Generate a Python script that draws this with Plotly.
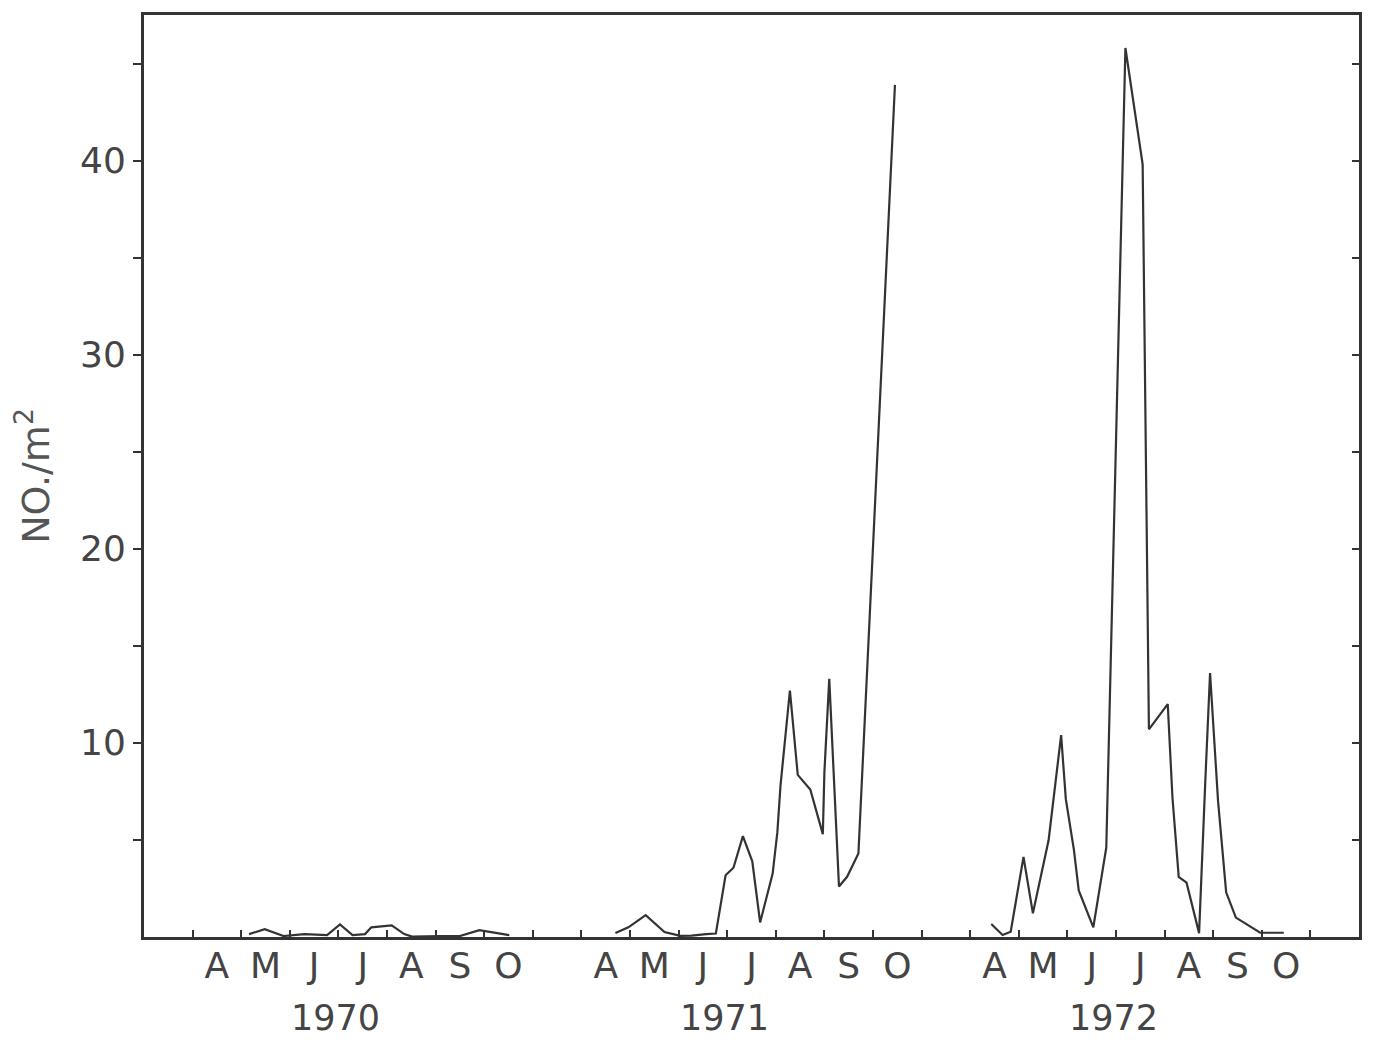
import calendar
import plotly.graph_objects as go

# ---------------- data ----------------
dates_1970 = ["1970-05-06", "1970-05-16", "1970-05-28", "1970-06-10", "1970-06-24",
              "1970-07-02", "1970-07-10", "1970-07-18", "1970-07-22", "1970-08-04",
              "1970-08-12", "1970-08-17", "1970-09-04", "1970-09-16", "1970-09-28",
              "1970-10-17"]
values_1970 = [0.15, 0.4, 0.05, 0.15, 0.1, 0.65, 0.1, 0.15, 0.5, 0.6,
               0.15, 0.02, 0.05, 0.05, 0.35, 0.1]

dates_1971 = ["1971-04-22", "1971-04-30", "1971-05-11", "1971-05-23", "1971-06-02",
              "1971-06-09", "1971-06-18", "1971-06-24", "1971-06-30", "1971-07-05",
              "1971-07-11", "1971-07-17", "1971-07-22", "1971-07-30", "1971-08-02",
              "1971-08-04", "1971-08-10", "1971-08-15", "1971-08-23", "1971-08-31",
              "1971-09-01", "1971-09-04", "1971-09-10", "1971-09-15", "1971-09-22",
              "1971-10-15"]
values_1971 = [0.2, 0.5, 1.13, 0.26, 0.06, 0.07, 0.15, 0.18, 3.18, 3.57,
               5.2, 3.9, 0.75, 3.27, 5.4, 7.8, 12.7, 8.35, 7.6, 5.3,
               8.5, 13.3, 2.6, 3.1, 4.3, 43.9]

dates_1972 = ["1972-04-14", "1972-04-21", "1972-04-26", "1972-05-04", "1972-05-10",
              "1972-05-20", "1972-05-28", "1972-05-31", "1972-06-05", "1972-06-08",
              "1972-06-17", "1972-06-25", "1972-07-07", "1972-07-18", "1972-07-22",
              "1972-08-03", "1972-08-06", "1972-08-10", "1972-08-15", "1972-08-23",
              "1972-08-27", "1972-08-30", "1972-09-04", "1972-09-09", "1972-09-15",
              "1972-09-30", "1972-10-15"]
values_1972 = [0.67, 0.1, 0.27, 4.12, 1.22, 4.98, 10.4, 7.1, 4.5, 2.4,
               0.5, 4.6, 45.8, 39.8, 10.7, 12.0, 7.2, 3.1, 2.8, 0.2,
               8.1, 13.6, 7.0, 2.3, 1.0, 0.22, 0.22]

years = [1970, 1971, 1972]
month_labels = ["A", "M", "J", "J", "A", "S", "O"]
y_major = [10, 20, 30, 40]
y_minor = [5, 15, 25, 35, 45]

# ---------------- compressed seasonal axis (Apr..Nov per year) ----------------
FIRST_MONTH = 3          # March = position 0 of each season block
MONTHS_PER_BLOCK = 8     # Apr..Oct plus one blank month between seasons


def pos(d):
    y, m, day = map(int, d.split("-"))
    return (y - years[0]) * MONTHS_PER_BLOCK + (m - FIRST_MONTH) + (day - 1) / calendar.monthrange(y, m)[1]


LINE = "#333333"
TEXT = "#444444"
FONT = "DejaVu Sans"

fig = go.Figure()
for dts, vals in [(dates_1970, values_1970), (dates_1971, values_1971), (dates_1972, values_1972)]:
    fig.add_trace(go.Scatter(x=[pos(d) for d in dts], y=vals, mode="lines",
                             line=dict(color=LINE, width=2.2), showlegend=False,
                             hoverinfo="skip"))
# invisible trace to anchor the right-hand axis
fig.add_trace(go.Scatter(x=[0], y=[0], yaxis="y2", mode="lines", line=dict(width=0),
                         showlegend=False, hoverinfo="skip"))

tick_mid, tick_text, bounds = [], [], []
for yi, yr in enumerate(years):
    for mi, lab in enumerate(month_labels):
        tick_mid.append(yi * MONTHS_PER_BLOCK + mi + 1.5)
        tick_text.append(lab)
    for k in range(1, MONTHS_PER_BLOCK + 1):
        bounds.append(yi * MONTHS_PER_BLOCK + k)

x_range = [0, len(years) * MONTHS_PER_BLOCK + 1]
y_range = [0, 47.5]

fig.update_layout(
    width=1362, height=1032,
    margin=dict(l=136, r=11, t=4, b=103),
    paper_bgcolor="white", plot_bgcolor="white",
    font=dict(family=FONT, color=TEXT),
    xaxis=dict(range=x_range, tickmode="array", tickvals=tick_mid, ticktext=tick_text,
               ticks="", showgrid=False, zeroline=False, ticklabelstandoff=-5,
               showline=True, linecolor=LINE, linewidth=3, mirror=True,
               tickfont=dict(size=36, color=TEXT),
               minor=dict(tickmode="array", tickvals=bounds, ticks="inside",
                          ticklen=7, tickwidth=2, tickcolor=LINE, showgrid=False)),
    yaxis=dict(range=y_range, tickmode="array", tickvals=y_major,
               ticks="outside", ticklen=8, tickwidth=2, tickcolor=LINE,
               showgrid=False, zeroline=False,
               showline=True, linecolor=LINE, linewidth=3, mirror=True,
               tickfont=dict(size=36, color=TEXT),
               title=dict(text="NO./m<sup>2</sup>", font=dict(size=38, color="#555555"),
                          standoff=20),
               minor=dict(tickmode="array", tickvals=y_minor, ticks="outside",
                          ticklen=8, tickwidth=2, tickcolor=LINE, showgrid=False)),
    yaxis2=dict(range=y_range, overlaying="y", side="right", tickmode="array",
                tickvals=sorted(y_major + y_minor), ticks="inside", ticklen=7,
                tickwidth=2, tickcolor=LINE, showticklabels=False, showgrid=False,
                zeroline=False, showline=False),
)

for yi, yr in enumerate(years):
    fig.add_annotation(x=yi * MONTHS_PER_BLOCK + 3.95, y=-0.088, xref="x", yref="paper",
                       text=str(yr), showarrow=False, yanchor="middle",
                       font=dict(size=35, color=TEXT, family=FONT))

fig.write_html("out.html")
